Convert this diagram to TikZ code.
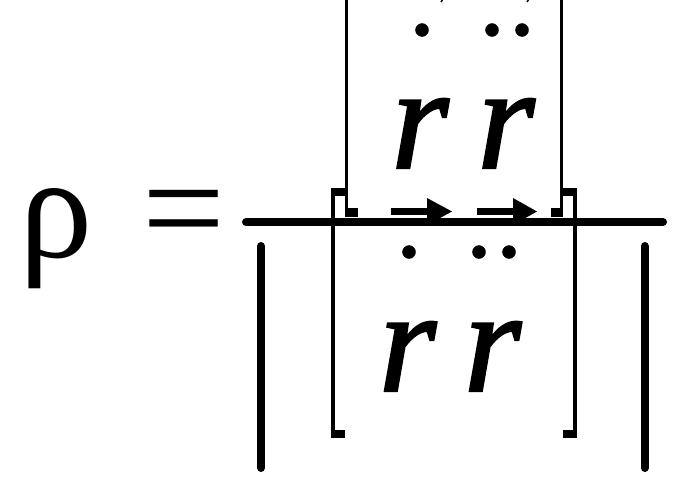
\documentclass[tikz,border=0pt]{standalone}
\usepackage{fontspec}
\setmainfont{Liberation Serif}
\newfontfamily\letterfont[ItalicFeatures={FakeBold=1.5}]{Liberation Serif}
\usetikzlibrary{positioning}

\begin{document}
\begin{tikzpicture}[x=1pt, y=-1pt,
    glyph/.style={inner sep=0pt, outer sep=0pt, anchor=base, font=\fontsize{147}{147}\selectfont},
    letter/.style={glyph, font=\letterfont\fontsize{147}{147}\selectfont\itshape},
    bar/.style={line width=8pt, line cap=round},
    brack/.style={line width=4pt}]
    \useasboundingbox (0,0) rectangle (700,498);
    % left side
    \node[glyph] (rho) at (56,257) {ρ};
    \node[glyph] (eq) at (183.5,257) {=};
    % numerator
    \node[letter] (rTopA) at (420,168) {r};
    \node[letter] (rTopB) at (506,168) {r};
    \foreach \x in {422,492,522} \filldraw[black] (\x,30) circle (6.5pt);
    \draw[line width=3.5pt] (346.5,-5)--(346.5,217);
    \draw[line width=3.5pt] (561.5,-5)--(561.5,217);
    \fill (345,208) rectangle (358,217);
    \fill (551,208) rectangle (563,217);
    \fill (391,208) rectangle (430,215);
    \fill (427,198)--(452,211.5)--(427,225)--cycle;
    \fill (477,208) rectangle (516,215);
    \fill (513,198)--(537,211.5)--(513,225)--cycle;
    \draw[line width=1.5pt] (443,-1)--(441,2);
    \draw[line width=1.5pt] (529,-1)--(527,2);
    % fraction line
    \draw[bar] (246,222)--(663,222);
    % denominator
    \draw[bar] (261,246)--(261,468);
    \draw[bar] (644.5,246)--(644.5,468);
    \draw[brack] (333,188)--(333,438);
    \draw[brack] (574.5,188)--(574.5,438);
    \fill (331,188) rectangle (345,196);
    \fill (331,430) rectangle (345,438);
    \fill (563,188) rectangle (577,196);
    \fill (563,430) rectangle (577,438);
    \node[letter] (rBotA) at (407.5,391) {r};
    \node[letter] (rBotB) at (492.5,391) {r};
    \foreach \x in {409,479,509} \filldraw[black] (\x,252) circle (6.5pt);
\end{tikzpicture}
\end{document}
